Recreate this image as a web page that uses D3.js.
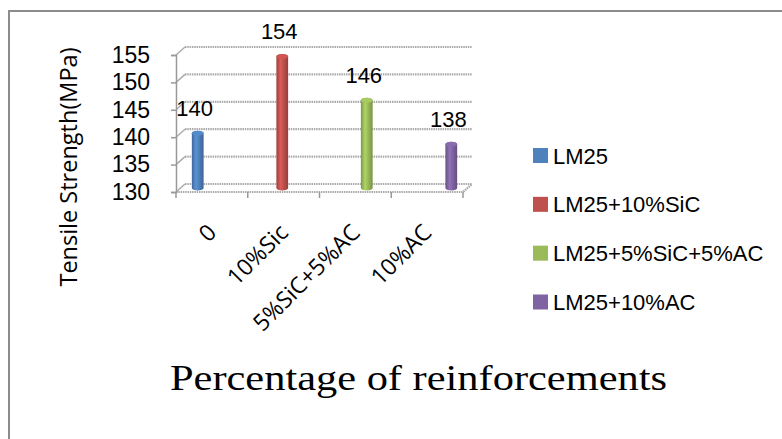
<!DOCTYPE html>
<html><head><meta charset="utf-8">
<script src="https://cdn.jsdelivr.net/npm/d3@7/dist/d3.min.js"></script>
<style>body{margin:0;background:#fff}svg{display:block}</style>
</head><body>
<svg id="c" width="782" height="439"></svg>
<script>
const categories = ["0", "10%Sic", "5%SiC+5%AC", "10%AC"];
const seriesNames = ["LM25", "LM25+10%SiC", "LM25+5%SiC+5%AC", "LM25+10%AC"];
const seriesValues = [140, 154, 146, 138];
const seriesColors = ["#4F81BD", "#C0504D", "#9BBB59", "#8064A2"];
const yTicks = [130, 135, 140, 145, 150, 155];
const xTitle = "Percentage of reinforcements";
const yTitle = "Tensile Strength(MPa)";

const svg = d3.select("#c");
const defs = svg.append("defs");

// border
svg.append("rect").attr("x", 9).attr("y", 11).attr("width", 800).attr("height", 460)
  .attr("fill", "none").attr("stroke", "#8c8c8c").attr("stroke-width", 2);

const left = 176, right = 463, depth = {x: 9, y: -8}, mid = {x: 5, y: -4};
const x = d3.scaleBand().domain(categories).range([left, right]).padding(0);
const xs = d3.scaleBand().domain(seriesNames).range([0, x.bandwidth()]).paddingInner(0.08).paddingOuter(0.85);
const y = d3.scaleLinear().domain([130, 155]).range([192, 55]);

const grid = "#ababab";
// back wall gridlines + diagonal connectors
yTicks.forEach(t => {
  svg.append("line").attr("x1", left + depth.x).attr("x2", right + depth.x)
    .attr("y1", y(t) + depth.y).attr("y2", y(t) + depth.y)
    .attr("stroke", grid).attr("stroke-width", 2.2).attr("stroke-dasharray", "1.5 0.8");
  svg.append("line").attr("x1", left).attr("y1", y(t)).attr("x2", left + depth.x).attr("y2", y(t) + depth.y)
    .attr("stroke", grid).attr("stroke-width", 1.5);
});
// floor
svg.append("path")
  .attr("d", `M${left},${y(130)}L${right},${y(130)}L${right + depth.x},${y(130) + depth.y}`)
  .attr("fill", "none").attr("stroke", grid).attr("stroke-width", 2.2).attr("stroke-dasharray", "1.5 0.8");

// left axis
const yAxis = d3.axisLeft(y).tickValues(yTicks).tickSize(5).tickPadding(21);
const ya = svg.append("g").attr("transform", `translate(${left},0)`).call(yAxis);
ya.select(".domain").attr("stroke", "#999").attr("stroke-width", 1.5);
ya.selectAll(".tick line").attr("stroke", "#999").attr("stroke-width", 1.5);
ya.selectAll(".tick text").attr("font-family", "Liberation Sans, Arial, sans-serif")
  .attr("font-size", 23).attr("fill", "#000");

// bottom axis ticks
const xTickPos = categories.map(c => x(c)).concat([right]);
svg.selectAll(".xt").data(xTickPos).join("line")
  .attr("x1", d => d).attr("x2", d => d).attr("y1", y(130)).attr("y2", y(130) + 6)
  .attr("stroke", "#999").attr("stroke-width", 1.5);

// category labels
svg.selectAll(".cl").data(categories).join("text")
  .attr("transform", d => `translate(${x(d) + x.bandwidth() / 2 + 6},234) rotate(-45)`)
  .attr("text-anchor", "end")
  .attr("font-family", "Open Sans, sans-serif").attr("font-size", 23).attr("fill", "#000")
  .text(d => d);

// gradients
seriesColors.forEach((c, i) => {
  const g = defs.append("linearGradient").attr("id", "g" + i).attr("x1", 0).attr("x2", 1).attr("y1", 0).attr("y2", 0);
  const base = d3.color(c);
  g.append("stop").attr("offset", "0%").attr("stop-color", base.darker(0.6));
  g.append("stop").attr("offset", "35%").attr("stop-color", base.brighter(0.35));
  g.append("stop").attr("offset", "100%").attr("stop-color", base.darker(0.7));
});

// bars (cylinders)
const bw = xs.bandwidth(), ry = 2.5;
seriesValues.forEach((v, i) => {
  const cx = x(categories[i]) + xs(seriesNames[i]) + bw / 2 + mid.x;
  const yt = y(v) + mid.y, yb = y(130) + mid.y;
  const x0 = cx - bw / 2, x1 = cx + bw / 2;
  svg.append("path")
    .attr("d", `M${x0},${yt}L${x0},${yb}A${bw / 2},${ry} 0 0 0 ${x1},${yb}L${x1},${yt}A${bw / 2},${ry} 0 0 0 ${x0},${yt}Z`)
    .attr("fill", `url(#g${i})`);
  svg.append("ellipse").attr("cx", cx).attr("cy", yt).attr("rx", bw / 2).attr("ry", ry)
    .attr("fill", d3.color(seriesColors[i]).brighter(0.2));
  svg.append("text").attr("x", cx - 3).attr("y", yt - 17)
    .attr("text-anchor", "middle").attr("font-family", "Liberation Sans, Arial, sans-serif")
    .attr("font-size", 22).attr("fill", "#000").text(v);
});

// legend
const ly = d3.scalePoint().domain(seriesNames).range([155.5, 302]);
const lg = svg.selectAll(".lg").data(seriesNames).join("g")
  .attr("transform", d => `translate(533,${ly(d)})`);
lg.append("rect").attr("x", 0).attr("y", -7.5).attr("width", 15).attr("height", 15)
  .attr("fill", (d, i) => seriesColors[i]);
lg.append("text").attr("x", 20).attr("y", 8)
  .attr("font-family", "Liberation Sans, Arial, sans-serif").attr("font-size", 22).attr("fill", "#000")
  .text(d => d);

// titles
svg.append("text").attr("transform", "translate(77,167) rotate(-90)")
  .attr("text-anchor", "middle").attr("font-family", "Open Sans, sans-serif")
  .attr("font-size", 23.5).attr("fill", "#000").text(yTitle);
svg.append("text").attr("x", 170).attr("y", 390)
  .attr("font-family", "Liberation Serif, Times New Roman, serif").attr("font-size", 35)
  .attr("textLength", 497).attr("lengthAdjust", "spacingAndGlyphs")
  .attr("fill", "#000").text(xTitle);
</script>
</body></html>
